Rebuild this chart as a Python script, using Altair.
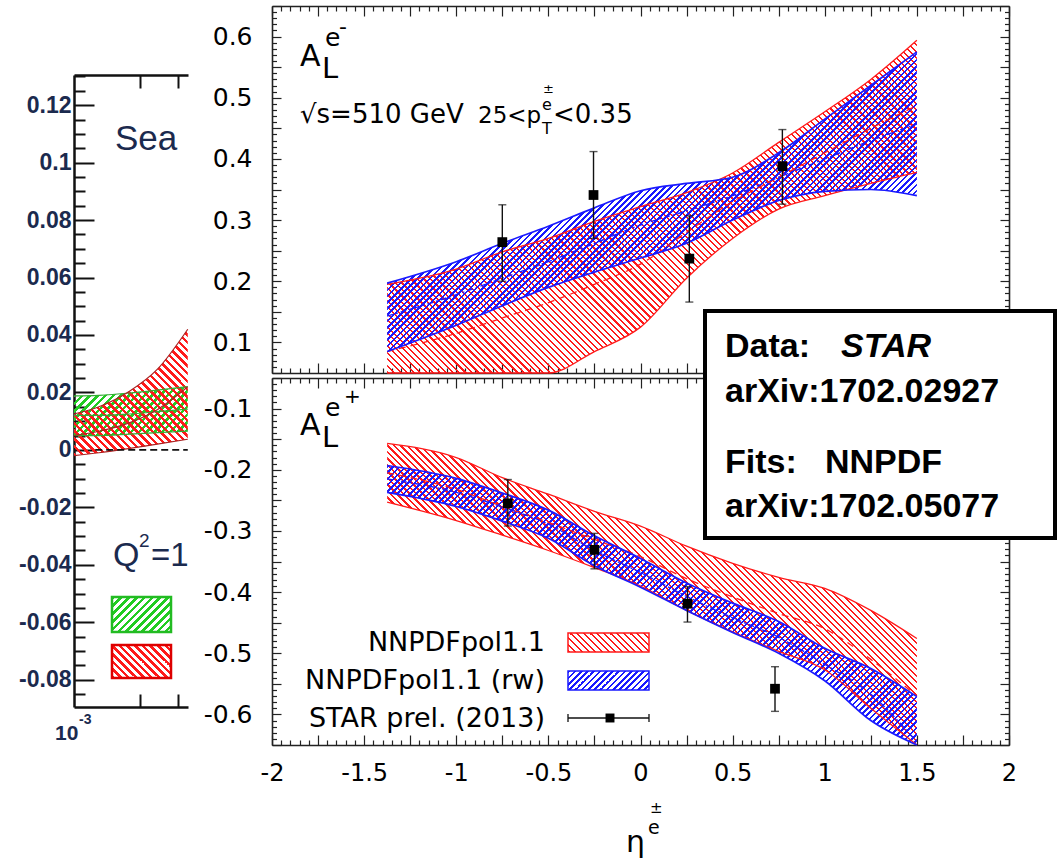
import altair as alt
import pandas as pd

W, H = 1057, 865

# ---------------- data: main chart ----------------
ETA = [-1.375, -1.0, -0.75, -0.5, -0.25, 0.0, 0.25, 0.5, 0.75, 1.0, 1.25, 1.5]

# A_L^{e-}  (top panel)
EM_RED_UP = [0.195, 0.22, 0.248, 0.27, 0.298, 0.322, 0.345, 0.377, 0.427, 0.477, 0.53, 0.594]
EM_RED_LO = [-0.03, -0.01, 0.01, 0.03, 0.085, 0.125, 0.205, 0.27, 0.318, 0.34, 0.36, 0.378]
EM_RED_C = [0.085, 0.115, 0.14, 0.165, 0.195, 0.228, 0.28, 0.33, 0.37, 0.41, 0.45, 0.487]
EM_BLUE_UP = [0.197, 0.232, 0.262, 0.29, 0.32, 0.348, 0.36, 0.37, 0.41, 0.465, 0.52, 0.575]
EM_BLUE_LO = [0.085, 0.128, 0.16, 0.19, 0.215, 0.238, 0.262, 0.3, 0.332, 0.347, 0.35, 0.34]
EM_BLUE_C = [0.143, 0.178, 0.205, 0.232, 0.262, 0.292, 0.315, 0.34, 0.37, 0.4, 0.43, 0.457]

# A_L^{e+}  (bottom panel)
EP_RED_UP = [-0.157, -0.18, -0.213, -0.24, -0.268, -0.292, -0.325, -0.353, -0.376, -0.394, -0.43, -0.476]
EP_RED_LO = [-0.253, -0.283, -0.307, -0.332, -0.36, -0.39, -0.43, -0.465, -0.497, -0.527, -0.59, -0.68]
EP_RED_C = [-0.205, -0.232, -0.26, -0.286, -0.314, -0.342, -0.378, -0.408, -0.435, -0.46, -0.51, -0.57]
EP_BLUE_UP = [-0.193, -0.214, -0.238, -0.266, -0.308, -0.345, -0.385, -0.418, -0.448, -0.492, -0.525, -0.571]
EP_BLUE_LO = [-0.237, -0.26, -0.284, -0.312, -0.357, -0.392, -0.43, -0.466, -0.5, -0.545, -0.61, -0.72]
EP_BLUE_C = [-0.215, -0.237, -0.261, -0.289, -0.332, -0.368, -0.407, -0.442, -0.474, -0.518, -0.567, -0.645]

# STAR data points
EM_PT_ETA = [-0.75, -0.255, 0.265, 0.77]
EM_PT_VAL = [0.264, 0.341, 0.237, 0.388]
EM_PT_LO = [0.2, 0.27, 0.166, 0.326]
EM_PT_HI = [0.325, 0.412, 0.307, 0.448]
EP_PT_ETA = [-0.72, -0.25, 0.255, 0.73]
EP_PT_VAL = [-0.255, -0.331, -0.419, -0.558]
EP_PT_LO = [-0.292, -0.362, -0.449, -0.595]
EP_PT_HI = [-0.216, -0.304, -0.391, -0.522]

# tick values / labels
X_LABELS = [-2, -1.5, -1, -0.5, 0, 0.5, 1, 1.5, 2]
TOP_LABELS = [0.1, 0.2, 0.3, 0.4, 0.5, 0.6]
BOT_LABELS = [-0.6, -0.5, -0.4, -0.3, -0.2, -0.1]
X_TICKS = [round(-2 + 0.05 * i, 2) for i in range(81)]
TOP_TICKS = [round(0.05 + 0.01 * i, 2) for i in range(61)]
BOT_TICKS = [round(-0.65 + 0.01 * i, 2) for i in range(61)]

# ---------------- data: background "Sea" chart ----------------
SEA_X = [0.001, 0.0013, 0.0018, 0.0024, 0.00331]
SEA_GREEN_UP = [0.0188, 0.019, 0.0198, 0.0208, 0.022]
SEA_GREEN_LO = [0.005, 0.005, 0.0055, 0.006, 0.0065]
SEA_GREEN_C = [0.012, 0.012, 0.0125, 0.0133, 0.0142]
SEA_RED_UP = [0.0125, 0.015, 0.0205, 0.028, 0.042]
SEA_RED_LO = [-0.002, -0.001, 0.0005, 0.002, 0.0037]
SEA_RED_C = [0.005, 0.0065, 0.0095, 0.014, 0.022]
SEA_ZERO_X = [0.00125, 0.00331]
SEA_ZERO_Y = [0.0, 0.0]
SEA_LABELS = [-0.08, -0.06, -0.04, -0.02, 0, 0.02, 0.04, 0.06, 0.08, 0.1, 0.12]
SEA_TICKS = [round(-0.085 + 0.005 * i, 3) for i in range(44)]
SEA_XTICKS = [0.002, 0.003]

# ---------------- placement / style ----------------
X_DOM, X_RNG = [-2.0, 2.0], [272, 1009]
TOP_DOM, TOP_RNG = [0.05, 0.65], [373, 6]
BOT_DOM, BOT_RNG = [-0.65, -0.05], [745, 378]
SEA_X_DOM, SEA_X_RNG = [0.001, 0.003318], [74, 188]
SEA_Y_DOM, SEA_Y_RNG = [-0.0895, 0.1305], [707, 75]

RED, BLUE, GREEN = "#ff1a1a", "#1a1aff", "#22cc22"
FRAME = "#222222"
NAVY = "#1b2a4e"
MAIN_FONT = "DejaVu Sans"
ARIAL = "Liberation Sans"
CLEAR = "rgba(255,255,255,0)"

ONE = pd.DataFrame({"k": [0]})


def hatch(color, w, h, kind, period=5.0, duty=0.38):
    """45-degree stripes as a linear gradient over the mark's bounding box."""
    s = (w + h) / (w * w + h * h)
    if kind == "/":
        x1, y1, x2, y2 = 0, 0, s * w, s * h
    else:
        x1, y1, x2, y2 = 0, 1, s * w, 1 - s * h
    n = max(1, int(round((w + h) / (2 ** 0.5 * period))))
    stops = []
    for i in range(n):
        a, b, c = i / n, (i + duty) / n, (i + 1) / n
        stops += [
            alt.GradientStop(color=color, offset=a),
            alt.GradientStop(color=color, offset=b),
            alt.GradientStop(color=CLEAR, offset=b),
            alt.GradientStop(color=CLEAR, offset=c),
        ]
    return alt.LinearGradient(gradient="linear", stops=stops, x1=x1, y1=y1, x2=x2, y2=y2)


def sc(dom, rng, **kw):
    return alt.Scale(domain=dom, range=rng, nice=False, zero=False, **kw)


def bbox_h(lo, hi, dom, rng):
    a = max(min(lo), dom[0])
    b = min(max(hi), dom[1])
    return (b - a) / (dom[1] - dom[0]) * abs(rng[0] - rng[1])


BAND_W = (ETA[-1] - ETA[0]) / (X_DOM[1] - X_DOM[0]) * (X_RNG[1] - X_RNG[0])

XCOND = {"condition": {"test": "abs(datum.value*4 - round(datum.value*4)) < 1e-6", "value": 10}, "value": 5}
YCOND = {"condition": {"test": "abs(datum.value*20 - round(datum.value*20)) < 1e-6", "value": 9}, "value": 4.5}
SEACOND = {"condition": {"test": "abs(datum.value*50 - round(datum.value*50)) < 1e-6", "value": 20}, "value": 11}


def tick_axis(orient, offset, values, cond, color=FRAME, tw=1.2, dw=1.6):
    return alt.Axis(orient=orient, offset=offset, values=values, labels=False, ticks=True,
                    tickSize=cond, tickColor=color, tickWidth=tw, domain=True,
                    domainColor=color, domainWidth=dw, grid=False, title=None)


def label_axis(orient, offset, values, font, size, pad, color="black", weight="normal"):
    return alt.Axis(orient=orient, offset=offset, values=values, labelExpr="'' + datum.value",
                    ticks=False, tickSize=0, domain=False, labelFont=font, labelFontSize=size,
                    labelFontWeight=weight, labelColor=color, labelPadding=pad,
                    labelOverlap=False, labelFlush=False, grid=False, title=None)


def axis_only(xs, ys, xaxis, yaxis, xdom, ydom):
    d = pd.DataFrame({"a": xdom, "b": ydom})
    return alt.Chart(d).mark_point(opacity=0).encode(
        x=alt.X("a:Q", scale=xs, axis=xaxis), y=alt.Y("b:Q", scale=ys, axis=yaxis))


def txt(s, x, y, size, font=MAIN_FONT, weight="normal", style="normal", align="left", color="black"):
    return alt.Chart(ONE).mark_text(text=s, align=align, baseline="alphabetic", font=font,
                                    fontSize=size, fontWeight=weight, fontStyle=style,
                                    color=color).encode(x=alt.value(x), y=alt.value(y))


def rect(x1, x2, y1, y2, **mk):
    return alt.Chart(ONE).mark_rect(**mk).encode(
        x=alt.value(x1), x2=alt.value(x2), y=alt.value(y1), y2=alt.value(y2))


def hrule(x1, x2, y, **mk):
    return alt.Chart(ONE).mark_rule(**mk).encode(x=alt.value(x1), x2=alt.value(x2), y=alt.value(y))


def vrule(x, y1, y2, **mk):
    return alt.Chart(ONE).mark_rule(**mk).encode(x=alt.value(x), y=alt.value(y1), y2=alt.value(y2))


layers = []

# ================= background "Sea" chart =================
sea = pd.DataFrame({"x": SEA_X, "gu": SEA_GREEN_UP, "gl": SEA_GREEN_LO, "gc": SEA_GREEN_C,
                    "ru": SEA_RED_UP, "rl": SEA_RED_LO, "rc": SEA_RED_C})


def sxs():
    return alt.Scale(type="log", domain=SEA_X_DOM, range=SEA_X_RNG, nice=False)


def sys_():
    return sc(SEA_Y_DOM, SEA_Y_RNG)


SX = lambda f: alt.X(f, type="quantitative", scale=sxs(), axis=None)
SY = lambda f: alt.Y(f, type="quantitative", scale=sys_(), axis=None)
sea_w = SEA_X_RNG[1] - SEA_X_RNG[0]

layers.append(alt.Chart(sea).mark_area(
    fill=hatch(GREEN, sea_w, bbox_h(SEA_GREEN_LO, SEA_GREEN_UP, SEA_Y_DOM, SEA_Y_RNG), "/", 5.5, 0.45),
    opacity=1, interpolate="monotone").encode(x=SX("x"), y=SY("gl"), y2=alt.Y2("gu")))
layers.append(alt.Chart(sea).mark_area(
    fill=hatch(RED, sea_w, bbox_h(SEA_RED_LO, SEA_RED_UP, SEA_Y_DOM, SEA_Y_RNG), "\\", 5.5, 0.45),
    opacity=1, interpolate="monotone").encode(x=SX("x"), y=SY("rl"), y2=alt.Y2("ru")))
layers.append(alt.Chart(sea).transform_fold(["gu", "gl", "gc"], as_=["k", "v"]).mark_line(
    color="#33aa33", strokeWidth=1.2, interpolate="monotone").encode(x=SX("x"), y=SY("v"), detail="k:N"))
layers.append(alt.Chart(sea).transform_fold(["ru", "rl", "rc"], as_=["k", "v"]).mark_line(
    color="#aa2222", strokeWidth=1.2, interpolate="monotone").encode(x=SX("x"), y=SY("v"), detail="k:N"))
zero = pd.DataFrame({"x": SEA_ZERO_X, "y": SEA_ZERO_Y})
layers.append(alt.Chart(zero).mark_line(color="#111111", strokeWidth=1.6, strokeDash=[7, 4]).encode(
    x=SX("x"), y=SY("y")))

# axes of the Sea chart
layers.append(axis_only(sxs(), sys_(),
                        tick_axis("bottom", -(H - SEA_Y_RNG[1]), SEA_XTICKS, 13, "#111111", 2, 2.5),
                        label_axis("left", -SEA_X_RNG[0], SEA_LABELS, ARIAL, 23, 3, NAVY, "bold"),
                        SEA_X_DOM, SEA_Y_DOM))
layers.append(axis_only(sxs(), sys_(),
                        tick_axis("top", -SEA_Y_RNG[0], SEA_XTICKS, 13, "#111111", 2, 2.5),
                        tick_axis("right", -(W - SEA_X_RNG[0]), SEA_TICKS, SEACOND, "#111111", 2, 2.5),
                        SEA_X_DOM, SEA_Y_DOM))

layers += [
    txt("Sea", 115, 150, 35, ARIAL, color=NAVY),
    txt("Q", 113, 566, 34, ARIAL, color=NAVY),
    txt("2", 139, 547, 19, ARIAL, color=NAVY),
    txt("=1", 151, 566, 33, ARIAL, color=NAVY),
    txt("10", 55, 740, 21, ARIAL, weight="bold", color=NAVY),
    txt("-3", 79, 724, 14, ARIAL, weight="bold", color=NAVY),
    rect(112, 171, 597, 632, fill=hatch(GREEN, 59, 35, "/", 5.5, 0.45), stroke="#22bb22", strokeWidth=2.5),
    rect(112, 171, 645, 678, fill=hatch(RED, 59, 33, "\\", 5.5, 0.45), stroke="#dd0000", strokeWidth=2.5),
]


# ================= main two-panel chart =================
def panel(df, ydom, yrng, pts, labels, ticks, show_x_labels):
    def xs():
        return sc(X_DOM, X_RNG)

    def ys():
        return sc(ydom, yrng, clamp=True)

    X = lambda f: alt.X(f, type="quantitative", scale=xs(), axis=None)
    Y = lambda f: alt.Y(f, type="quantitative", scale=ys(), axis=None)
    hr = bbox_h(df.rl, df.ru, ydom, yrng)
    hb = bbox_h(df.bl, df.bu, ydom, yrng)
    L = [
        alt.Chart(df).mark_area(fill=hatch(RED, BAND_W, hr, "\\", 4.6, 0.34), opacity=1,
                                interpolate="monotone").encode(x=X("eta"), y=Y("rl"), y2=alt.Y2("ru")),
        alt.Chart(df).mark_area(fill=hatch(BLUE, BAND_W, hb, "/", 4.4, 0.42), opacity=1,
                                interpolate="monotone").encode(x=X("eta"), y=Y("bl"), y2=alt.Y2("bu")),
        alt.Chart(df).transform_fold(["ru", "rl"], as_=["k", "v"]).mark_line(
            color=RED, strokeWidth=1.3, interpolate="monotone").encode(x=X("eta"), y=Y("v"), detail="k:N"),
        alt.Chart(df).mark_line(color=RED, strokeWidth=1.3, strokeDash=[7, 5],
                                interpolate="monotone").encode(x=X("eta"), y=Y("rc")),
        alt.Chart(df).transform_fold(["bu", "bl"], as_=["k", "v"]).mark_line(
            color=BLUE, strokeWidth=1.7, interpolate="monotone").encode(x=X("eta"), y=Y("v"), detail="k:N"),
        alt.Chart(df).mark_line(color=BLUE, strokeWidth=1.4, strokeDash=[6, 3, 2, 3],
                                interpolate="monotone").encode(x=X("eta"), y=Y("bc")),
        alt.Chart(pts).mark_rule(color="#111111", strokeWidth=1.4).encode(
            x=X("eta"), y=Y("lo"), y2=alt.Y2("hi")),
        alt.Chart(pts).transform_fold(["lo", "hi"], as_=["k", "v"]).mark_tick(
            orient="horizontal", size=8, thickness=1.4, color="#111111").encode(x=X("eta"), y=Y("v")),
        alt.Chart(pts).mark_square(size=95, color="black", opacity=1, filled=True).encode(
            x=X("eta"), y=Y("val")),
    ]
    top_px, bot_px = yrng[1], yrng[0]
    L.append(axis_only(xs(), ys(),
                       tick_axis("bottom", -(H - top_px), X_TICKS, XCOND),
                       label_axis("left", -X_RNG[0], labels, MAIN_FONT, 25, 20),
                       X_DOM, ydom))
    L.append(axis_only(xs(), ys(),
                       tick_axis("top", -bot_px, X_TICKS, XCOND),
                       tick_axis("right", -(W - X_RNG[0]), ticks, YCOND),
                       X_DOM, ydom))
    xl = label_axis("bottom", -(H - bot_px), X_LABELS, MAIN_FONT, 24, 16) if show_x_labels else None
    L.append(axis_only(xs(), ys(), xl, tick_axis("left", -X_RNG[1], ticks, YCOND), X_DOM, ydom))
    return L


top = pd.DataFrame({"eta": ETA, "ru": EM_RED_UP, "rl": EM_RED_LO, "rc": EM_RED_C,
                    "bu": EM_BLUE_UP, "bl": EM_BLUE_LO, "bc": EM_BLUE_C})
bot = pd.DataFrame({"eta": ETA, "ru": EP_RED_UP, "rl": EP_RED_LO, "rc": EP_RED_C,
                    "bu": EP_BLUE_UP, "bl": EP_BLUE_LO, "bc": EP_BLUE_C})
top_pts = pd.DataFrame({"eta": EM_PT_ETA, "val": EM_PT_VAL, "lo": EM_PT_LO, "hi": EM_PT_HI})
bot_pts = pd.DataFrame({"eta": EP_PT_ETA, "val": EP_PT_VAL, "lo": EP_PT_LO, "hi": EP_PT_HI})

layers += panel(top, TOP_DOM, TOP_RNG, top_pts, TOP_LABELS, TOP_TICKS, False)
layers += panel(bot, BOT_DOM, BOT_RNG, bot_pts, BOT_LABELS, BOT_TICKS, True)

# panel annotations
layers += [
    txt("A", 300, 66, 30), txt("L", 322, 78, 29), txt("e", 325, 46, 25), txt("-", 339, 34, 22),
    txt("√s=510 GeV", 300, 123, 26), txt("25<p", 478, 123, 23),
    txt("T", 542, 134, 16), txt("e", 542, 110, 16), txt("±", 543, 93, 13),
    txt("<0.35", 553, 123, 26),
    txt("A", 300, 435, 30), txt("L", 322, 447, 29), txt("e", 325, 416, 25), txt("+", 344, 403, 20),
    # x-axis title
    txt("η", 626, 852, 30), txt("e", 648, 834, 19), txt("±", 650, 813, 15),
]

# legend inside the bottom panel
layers += [
    txt("NNPDFpol1.1", 545, 651, 27, align="right"),
    txt("NNPDFpol1.1 (rw)", 545, 689, 27, align="right"),
    txt("STAR prel. (2013)", 545, 727, 27, align="right"),
    rect(568, 649, 633, 652, fill=hatch(RED, 81, 19, "\\", 4.6, 0.34), stroke=RED, strokeWidth=1.5),
    rect(568, 649, 671, 690, fill=hatch(BLUE, 81, 19, "/", 4.4, 0.42), stroke=BLUE, strokeWidth=1.5),
    hrule(568, 649, 718, color="#111111", strokeWidth=1.3),
    vrule(568, 714, 722, color="#111111", strokeWidth=1.3),
    vrule(649, 714, 722, color="#111111", strokeWidth=1.3),
    alt.Chart(ONE).mark_square(size=80, color="black", opacity=1, filled=True).encode(
        x=alt.value(610), y=alt.value(718)),
]

# reference box
layers += [
    rect(705, 1055, 311, 538, fill="white", stroke="black", strokeWidth=4),
    txt("Data:", 725, 357, 34, ARIAL, weight="bold"),
    txt("STAR", 841, 357, 34, ARIAL, weight="bold", style="italic"),
    txt("arXiv:1702.02927", 725, 402, 34, ARIAL, weight="bold"),
    txt("Fits:", 725, 473, 34, ARIAL, weight="bold"),
    txt("NNPDF", 825, 473, 34, ARIAL, weight="bold"),
    txt("arXiv:1702.05077", 725, 517, 34, ARIAL, weight="bold"),
]

chart = alt.layer(*layers).resolve_scale(x="independent", y="independent").properties(
    width=W, height=H, padding=0, autosize="none", background="white"
).configure_view(stroke=None)

chart.save("out.html", embed_options={"renderer": "svg", "actions": False})
